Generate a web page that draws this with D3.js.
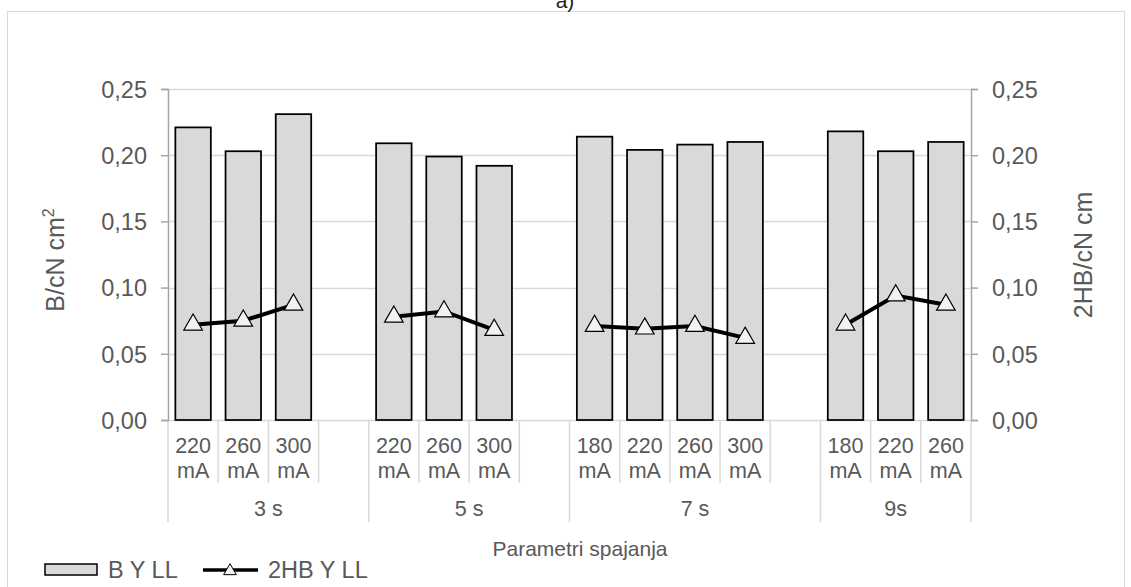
<!DOCTYPE html>
<html lang="en">
<head>
<meta charset="utf-8">
<title>Parametri spajanja</title>
<style>
    body { margin: 0; background: #fff; }
    svg text { font-family: "Liberation Sans", Arial, sans-serif; fill: #595959; }
</style>
</head>
<body>
<script src="https://d3js.org/d3.v7.min.js"></script>
<script>
// podaci
const groups = ["3 s", "5 s", "7 s", "9s"];
const currents = [
    ["220", "260", "300"],
    ["220", "260", "300"],
    ["180", "220", "260", "300"],
    ["180", "220", "260"]
];
const bYLL = [
    [0.221, 0.203, 0.231],
    [0.209, 0.199, 0.192],
    [0.214, 0.204, 0.208, 0.210],
    [0.218, 0.203, 0.210]
];
const hbYLL = [
    [0.072, 0.075, 0.087],
    [0.078, 0.082, 0.068],
    [0.071, 0.069, 0.071, 0.062],
    [0.072, 0.094, 0.087]
];
const yTicks = [0, 0.05, 0.10, 0.15, 0.20, 0.25];

// slotovi: svaka grupa + prazan slot izmedju grupa
const slots = [];
groups.forEach((g, gi) => {
    currents[gi].forEach((c, ci) => {
        slots.push({ key: gi + "-" + ci, group: gi, label: c, b: bYLL[gi][ci], hb: hbYLL[gi][ci] });
    });
    if (gi < groups.length - 1) slots.push({ key: gi + "-gap", group: gi, label: null, b: null, hb: null });
});

const width = 1131, height = 587;
const plotL = 168, plotR = 971, plotT = 89, plotB = 420;

const svg = d3.select("body").append("svg")
    .attr("width", width)
    .attr("height", height);

// okvir
svg.append("rect")
    .attr("x", 7.5).attr("y", 11.5)
    .attr("width", 1117).attr("height", 620)
    .attr("fill", "none").attr("stroke", "#d9d9d9");

svg.append("text")
    .attr("x", 565).attr("y", 8)
    .attr("text-anchor", "middle")
    .style("font-size", "21px").style("fill", "#222")
    .text("a)");

const x = d3.scaleBand().domain(slots.map(d => d.key)).range([plotL, plotR]).padding(0);
const y = d3.scaleLinear().domain([0, 0.25]).range([plotB, plotT]);
const fmt = d => d3.format(".2f")(d).replace(".", ",");

// mreza
svg.append("g")
    .selectAll("line")
    .data(yTicks.slice(1))
    .join("line")
    .attr("x1", plotL).attr("x2", plotR)
    .attr("y1", d => Math.round(y(d)) + 0.5).attr("y2", d => Math.round(y(d)) + 0.5)
    .attr("stroke", "#d9d9d9").attr("stroke-width", 1.5);

// kategorijske linije
const bounds = slots.map((d, i) => ({ x: x(d.key), long: i === 0 || d.group !== slots[i - 1].group }));
bounds.push({ x: plotR, long: true });
svg.append("g")
    .selectAll("line")
    .data(bounds)
    .join("line")
    .attr("x1", d => d.x).attr("x2", d => d.x)
    .attr("y1", plotB).attr("y2", d => d.long ? 522 : 483)
    .attr("stroke", "#d9d9d9").attr("stroke-width", 1.5);

svg.append("line")
    .attr("x1", plotL).attr("x2", plotR)
    .attr("y1", plotB + 0.5).attr("y2", plotB + 0.5)
    .attr("stroke", "#d9d9d9").attr("stroke-width", 1.5);

// osi
const axL = svg.append("g")
    .attr("transform", `translate(${plotL},0)`)
    .call(d3.axisLeft(y).tickValues(yTicks).tickFormat(fmt).tickSize(7).tickPadding(14));
const axR = svg.append("g")
    .attr("transform", `translate(${plotR},0)`)
    .call(d3.axisRight(y).tickValues(yTicks).tickFormat(fmt).tickSize(7).tickPadding(14));
[axL, axR].forEach(ax => {
    ax.select(".domain").attr("stroke", "#a6a6a6").attr("stroke-width", 1.5);
    ax.selectAll(".tick line").attr("stroke", "#a6a6a6").attr("stroke-width", 1.5);
    ax.selectAll(".tick text").style("font-size", "23.5px").style("fill", "#595959").attr("dy", "0.35em");
});

// stupci
const bw = x.bandwidth() * 0.707;
svg.append("g")
    .selectAll("rect")
    .data(slots.filter(d => d.b != null))
    .join("rect")
    .attr("x", d => x(d.key) + (x.bandwidth() - bw) / 2)
    .attr("y", d => y(d.b))
    .attr("width", bw)
    .attr("height", d => y(0) - y(d.b))
    .attr("fill", "#d9d9d9")
    .attr("stroke", "#000")
    .attr("stroke-width", 1.75);

// linija 2HB
const line = d3.line()
    .defined(d => d.hb != null)
    .x(d => x(d.key) + x.bandwidth() / 2)
    .y(d => y(d.hb));
svg.append("path")
    .datum(slots)
    .attr("d", line)
    .attr("fill", "none")
    .attr("stroke", "#000")
    .attr("stroke-width", 4);

const tri = d3.symbol().type(d3.symbolTriangle).size(150);
svg.append("g")
    .selectAll("path")
    .data(slots.filter(d => d.hb != null))
    .join("path")
    .attr("d", tri)
    .attr("transform", d => `translate(${x(d.key) + x.bandwidth() / 2},${y(d.hb)})`)
    .attr("fill", "#f2f2f2")
    .attr("stroke", "#000")
    .attr("stroke-width", 1.2);

// oznake kategorija
const catLabels = svg.append("g")
    .selectAll("text")
    .data(slots.filter(d => d.label))
    .join("text")
    .attr("text-anchor", "middle")
    .style("font-size", "21.5px");
catLabels.append("tspan")
    .attr("x", d => x(d.key) + x.bandwidth() / 2).attr("y", 453)
    .text(d => d.label);
catLabels.append("tspan")
    .attr("x", d => x(d.key) + x.bandwidth() / 2).attr("y", 478)
    .text("mA");

svg.append("g")
    .selectAll("text")
    .data(groups)
    .join("text")
    .attr("x", (g, gi) => {
        const s = slots.filter(d => d.group === gi);
        return (x(s[0].key) + x(s[s.length - 1].key) + x.bandwidth()) / 2;
    })
    .attr("y", 516)
    .attr("text-anchor", "middle")
    .style("font-size", "21.5px")
    .text(d => d);

// naslovi osi
svg.append("text")
    .attr("x", 580).attr("y", 556)
    .attr("text-anchor", "middle")
    .style("font-size", "21px")
    .text("Parametri spajanja");

const tl = svg.append("text")
    .attr("transform", "translate(64,260) rotate(-90)")
    .attr("text-anchor", "middle")
    .style("font-size", "25px");
tl.append("tspan").text("B/cN cm");
tl.append("tspan").attr("dy", -10).style("font-size", "16px").text("2");

svg.append("text")
    .attr("transform", "translate(1092,255) rotate(-90)")
    .attr("text-anchor", "middle")
    .style("font-size", "25px")
    .text("2HB/cN cm");

// legenda
const leg = svg.append("g");
leg.append("rect")
    .attr("x", 45).attr("y", 564).attr("width", 52).attr("height", 11)
    .attr("fill", "#d9d9d9").attr("stroke", "#000").attr("stroke-width", 1.5);
leg.append("text").attr("x", 108).attr("y", 578).style("font-size", "23.5px").text("B Y LL");
leg.append("line")
    .attr("x1", 203).attr("x2", 258).attr("y1", 570).attr("y2", 570)
    .attr("stroke", "#000").attr("stroke-width", 3.5);
leg.append("path")
    .attr("d", d3.symbol().type(d3.symbolTriangle).size(70))
    .attr("transform", "translate(230,571)")
    .attr("fill", "#f2f2f2").attr("stroke", "#000").attr("stroke-width", 1);
leg.append("text").attr("x", 268).attr("y", 578).style("font-size", "23.5px").text("2HB Y LL");
</script>
</body>
</html>
